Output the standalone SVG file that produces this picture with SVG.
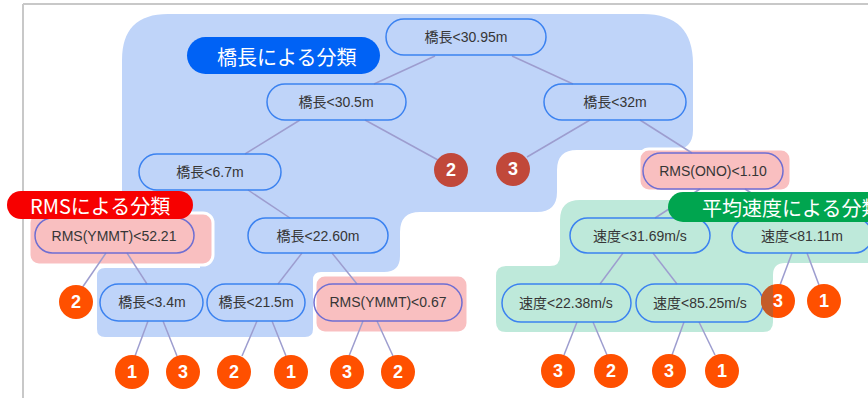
<svg xmlns="http://www.w3.org/2000/svg" width="868" height="398" viewBox="0 0 868 398">
<style>
.pill{fill:none;stroke:#3B82F0;stroke-width:1.5}
.ppill{fill:none;stroke:#6E6ED2;stroke-width:1.5}
.nt{font-family:"Liberation Sans","Noto Sans CJK JP",sans-serif;font-size:14px;fill:#363636;text-anchor:middle;dominant-baseline:central}
.lt{font-family:"Noto Sans CJK JP",sans-serif;font-size:20px;fill:#fff;dominant-baseline:central}
.ct{font-family:"Liberation Sans",sans-serif;font-size:18px;font-weight:bold;fill:#fff;text-anchor:middle;dominant-baseline:central}
.oc{fill:#FF5000}
.dc{fill:#C1483A}
.pink{fill:#F9BFC0;stroke:#fff;stroke-width:3}
#connectors line{stroke:#9D9DCF;stroke-width:1.5}
</style>
<defs>
<clipPath id="gclip"><rect x="0" y="0" width="773" height="398"/></clipPath>
</defs>
<rect width="868" height="398" fill="#fff"/>
<g id="frame" stroke="#c8c8c8" stroke-width="2" fill="none">
<line x1="23" y1="4" x2="868" y2="4"/>
<line x1="23" y1="4" x2="23" y2="398"/>
</g>
<g id="regions">
<path id="blue-region" fill="#BFD4F9" d="M122,60 Q122,14 168,14 H643 Q693,14 693,64 V130 Q693,150 673,150 H577 Q557,150 557,170 V192 Q557,212 537,212 H420 Q400,212 400,232 V256 Q400,272 384,272 H321 Q313,272 313,280 V329 Q313,337 305,337 H105 Q97,337 97,329 V276 Q97,268 105,268 H200 V212 H122 Z"/>
<path id="green-region" fill="#BEE9DA" d="M560,220 Q560,200 580,200 H870 V263 H785 Q773,263 773,275 V322 Q773,332 763,332 H506 Q496,332 496,322 V276 Q496,266 506,266 H550 Q560,266 560,256 Z"/>
<rect class="pink" x="29" y="213" width="184" height="52" rx="10"/>
<rect class="pink" x="639" y="149" width="152" height="42" rx="10"/>
<rect class="pink" x="315" y="275" width="153" height="58" rx="10"/>
</g>
<g id="connectors">
<line x1="435" y1="56" x2="374" y2="84"/>
<line x1="512" y1="56" x2="573" y2="84"/>
<line x1="300" y1="120" x2="245" y2="154"/>
<line x1="365" y1="120" x2="438" y2="160"/>
<line x1="590" y1="120" x2="527" y2="157"/>
<line x1="640" y1="120" x2="692" y2="153"/>
<line x1="248" y1="190" x2="290" y2="218"/>
<line x1="106" y1="253" x2="82" y2="288"/>
<line x1="127" y1="253" x2="147" y2="284"/>
<line x1="302" y1="253" x2="278" y2="284"/>
<line x1="332" y1="253" x2="357" y2="284"/>
<line x1="148" y1="321" x2="135" y2="356"/>
<line x1="163" y1="321" x2="177" y2="356"/>
<line x1="257" y1="321" x2="242" y2="356"/>
<line x1="272" y1="321" x2="286" y2="356"/>
<line x1="363" y1="321" x2="349" y2="356"/>
<line x1="377" y1="321" x2="393" y2="356"/>
<line x1="700" y1="189" x2="655" y2="218"/>
<line x1="745" y1="189" x2="790" y2="218"/>
<line x1="623" y1="253" x2="600" y2="284"/>
<line x1="653" y1="253" x2="677" y2="284"/>
<line x1="792" y1="253" x2="780" y2="285"/>
<line x1="807" y1="253" x2="819" y2="285"/>
<line x1="577" y1="322" x2="564" y2="355"/>
<line x1="593" y1="322" x2="607" y2="355"/>
<line x1="684" y1="322" x2="672" y2="355"/>
<line x1="699" y1="322" x2="715" y2="355"/>
</g>
<g id="n-root"><rect class="pill" x="386" y="19" width="160" height="36" rx="18"/><text class="nt" x="466" y="37">橋長&lt;30.95m</text></g>
<g id="n-30-5"><rect class="pill" x="267" y="84" width="139" height="36" rx="18"/><text class="nt" x="336" y="102">橋長&lt;30.5m</text></g>
<g id="n-32"><rect class="pill" x="544" y="84" width="142" height="36" rx="18"/><text class="nt" x="615" y="102">橋長&lt;32m</text></g>
<g id="n-6-7"><rect class="pill" x="139" y="154" width="142" height="36" rx="18"/><text class="nt" x="210" y="172">橋長&lt;6.7m</text></g>
<g id="n-22-60"><rect class="pill" x="248" y="218" width="140" height="35" rx="17.5"/><text class="nt" x="318" y="236">橋長&lt;22.60m</text></g>
<g id="n-rms-52"><rect class="ppill" x="35" y="218" width="159" height="35" rx="17.5"/><text class="nt" x="114" y="236">RMS(YMMT)&lt;52.21</text></g>
<g id="n-rms-ono"><rect class="ppill" x="643" y="153" width="140" height="36" rx="18"/><text class="nt" x="713" y="171">RMS(ONO)&lt;1.10</text></g>
<g id="n-v31"><rect class="pill" x="570" y="218" width="140" height="35" rx="17.5"/><text class="nt" x="640" y="236">速度&lt;31.69m/s</text></g>
<g id="n-v81"><rect class="pill" x="732" y="218" width="140" height="35" rx="17.5"/><text class="nt" x="802" y="236">速度&lt;81.11m</text></g>
<g id="n-3-4"><rect class="pill" x="100" y="284" width="103" height="37" rx="18.5"/><text class="nt" x="152" y="302">橋長&lt;3.4m</text></g>
<g id="n-21-5"><rect class="pill" x="207" y="284" width="98" height="37" rx="18.5"/><text class="nt" x="256" y="302">橋長&lt;21.5m</text></g>
<g id="n-rms-067"><rect class="ppill" x="314" y="284" width="148" height="37" rx="18.5"/><text class="nt" x="388" y="302">RMS(YMMT)&lt;0.67</text></g>
<g id="n-v22"><rect class="pill" x="502" y="284" width="129" height="38" rx="19"/><text class="nt" x="566" y="303">速度&lt;22.38m/s</text></g>
<g id="n-v85"><rect class="pill" x="636" y="284" width="127" height="38" rx="19"/><text class="nt" x="700" y="303">速度&lt;85.25m/s</text></g>
<g id="leaf-d2"><circle class="dc" cx="451" cy="170" r="17"/><text class="ct" x="451" y="170">2</text></g>
<g id="leaf-d3"><circle class="dc" cx="513" cy="169" r="17"/><text class="ct" x="513" y="169">3</text></g>
<g id="leaf-a"><circle class="oc" cx="76" cy="302" r="17"/><text class="ct" x="76" y="302">2</text></g>
<g id="leaf-b"><circle class="oc" cx="132" cy="372" r="17"/><text class="ct" x="132" y="372">1</text></g>
<g id="leaf-c"><circle class="oc" cx="183" cy="372" r="17"/><text class="ct" x="183" y="372">3</text></g>
<g id="leaf-d"><circle class="oc" cx="234" cy="372" r="17"/><text class="ct" x="234" y="372">2</text></g>
<g id="leaf-e"><circle class="oc" cx="291" cy="372" r="17"/><text class="ct" x="291" y="372">1</text></g>
<g id="leaf-f"><circle class="oc" cx="347" cy="372" r="17"/><text class="ct" x="347" y="372">3</text></g>
<g id="leaf-g"><circle class="oc" cx="398" cy="372" r="17"/><text class="ct" x="398" y="372">2</text></g>
<g id="leaf-h"><circle class="oc" cx="558" cy="371" r="17"/><text class="ct" x="558" y="371">3</text></g>
<g id="leaf-i"><circle class="oc" cx="611" cy="371" r="17"/><text class="ct" x="611" y="371">2</text></g>
<g id="leaf-j"><circle class="oc" cx="669" cy="371" r="17"/><text class="ct" x="669" y="371">3</text></g>
<g id="leaf-k"><circle class="oc" cx="722" cy="371" r="17"/><text class="ct" x="722" y="371">1</text></g>
<g id="leaf-l"><circle class="oc" cx="778" cy="301" r="17"/><circle cx="778" cy="301" r="17" fill="#C45C28" clip-path="url(#gclip)"/><text class="ct" x="778" y="301">3</text></g>
<g id="leaf-m"><circle class="oc" cx="824" cy="301" r="17"/><text class="ct" x="824" y="301">1</text></g>
<g id="label-bridge"><rect x="187" y="37" width="193" height="37" rx="18.5" fill="#0062F5"/><text class="lt" x="217" y="56">橋長による分類</text></g>
<g id="label-rms"><rect x="7" y="191" width="186" height="28" rx="14" fill="#F70000"/><text class="lt" x="30" y="205" font-size="21">RMSによる分類</text></g>
<g id="label-speed"><rect x="668" y="192" width="230" height="30" rx="15" fill="#00A54F"/><text class="lt" x="702" y="207" font-size="21">平均速度による分類</text></g>
</svg>
